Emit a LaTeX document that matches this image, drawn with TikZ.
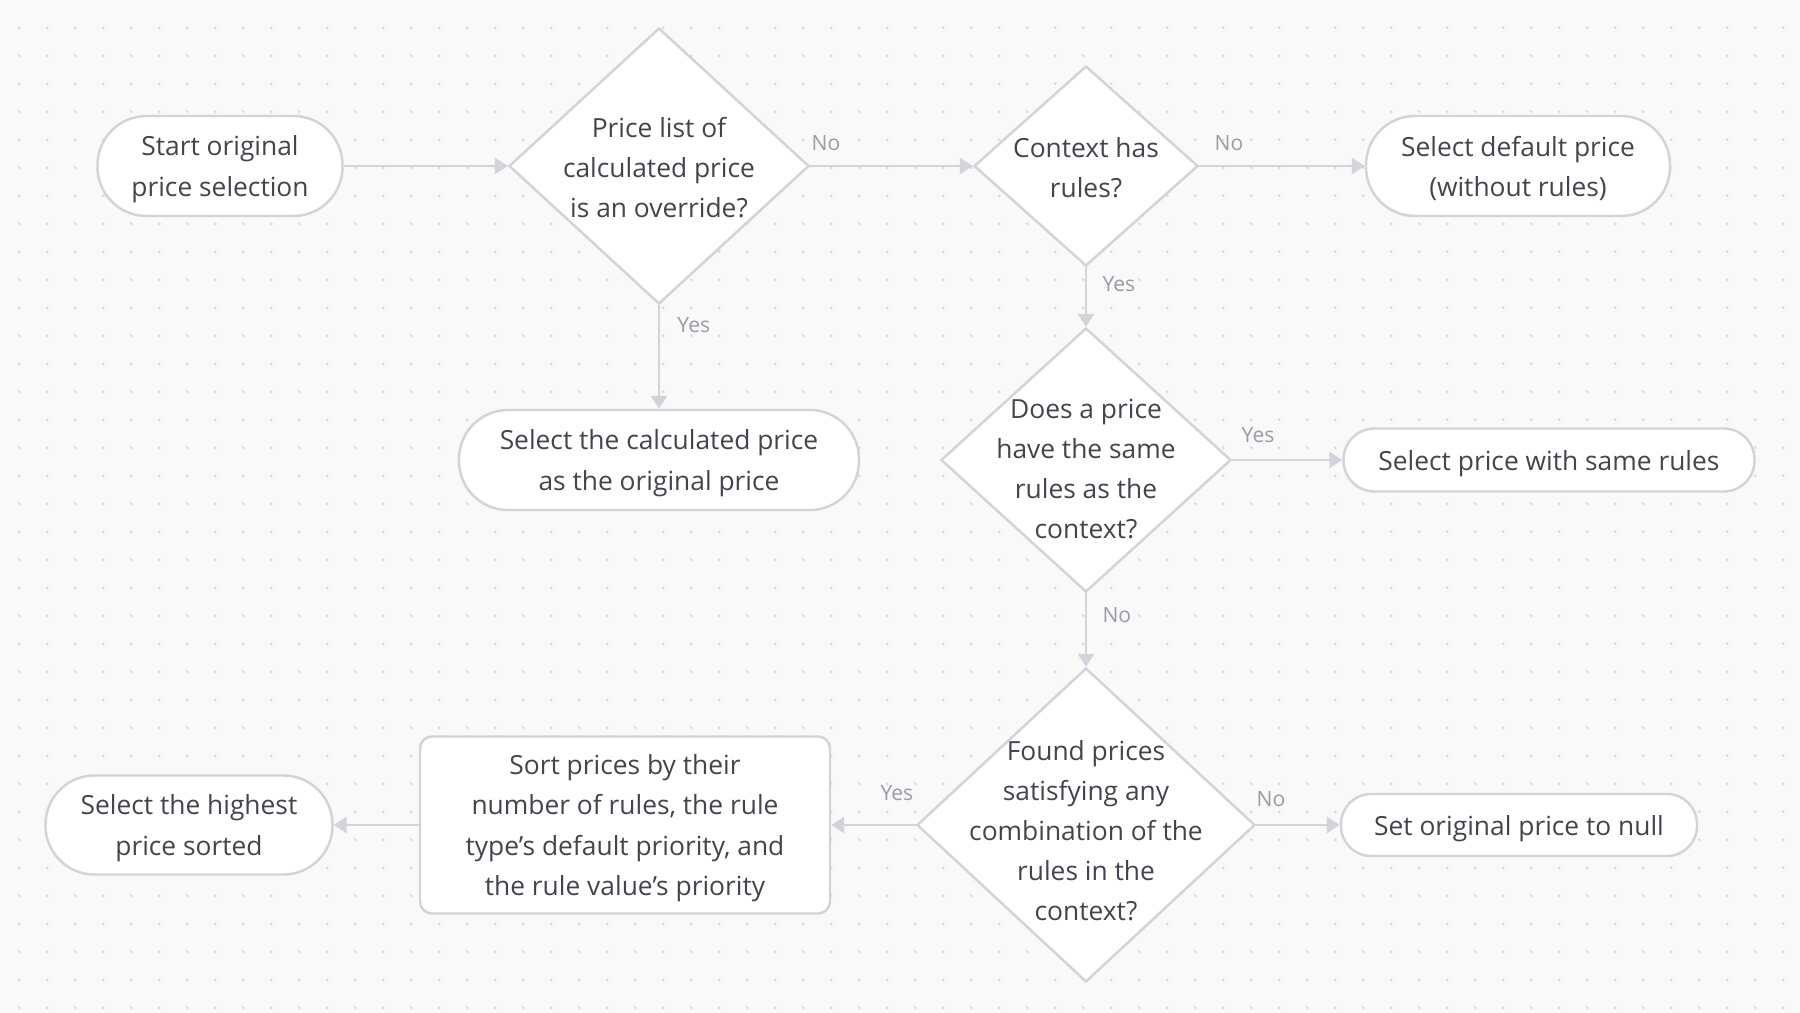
\documentclass[tikz,border=0pt]{standalone}
\usepackage{fontspec}
\setmainfont{Open Sans}
\usetikzlibrary{positioning,arrows.meta,shapes.geometric}
\definecolor{bgc}{HTML}{F9F9FA}
\definecolor{dotc}{HTML}{DCDCE0}
\definecolor{linec}{HTML}{D3D3D9}
\definecolor{txtc}{HTML}{44444F}
\definecolor{lblc}{HTML}{9B9BA5}

\begin{document}
\begin{tikzpicture}[y=-1cm, font=\fontsize{7.5}{11.4}\selectfont,
    every node/.style={align=center},
    term/.style={draw=linec, line width=0.7pt, fill=white, text=txtc, rounded corners=0.49cm, minimum height=1.0cm, text depth=-0.6pt},
    box/.style={draw=linec, line width=0.7pt, fill=white, text=txtc, rounded corners=0.12cm, text depth=-0.6pt},
    decision/.style={diamond, draw=linec, line width=0.7pt, fill=white, inner sep=0pt},
    dtext/.style={text=txtc},
    flow/.style={draw=linec, line width=0.85pt, -{Triangle[length=0.13cm,width=0.16cm]}},
    lbl/.style={text=lblc, font=\fontsize{6}{7}\selectfont, inner sep=0pt}]
  \fill[bgc] (0,0) rectangle (18,10.13);
  \foreach \i in {0,...,63}
    \foreach \j in {0,...,35}
      \fill[dotc] (0.193+0.28*\i, 0.277+0.28*\j) circle (0.016);

  \node[term, minimum width=2.45cm] (start) at (2.20,1.66) {Start original\\price selection};
  \node[decision, minimum width=3.0cm, minimum height=2.76cm,
    label={[dtext, yshift=-0.02cm]center:{Price list of\\calculated price\\is an override?}}] (d1) at (6.59,1.66) {};
  \node[decision, minimum width=2.24cm, minimum height=2.0cm,
    label={[dtext, yshift=-0.02cm]center:{Context has\\rules?}}] (d2) at (10.86,1.66) {};
  \node[term, minimum width=3.04cm] (dflt) at (15.18,1.66) {Select default price\\(without rules)};
  \node[term, minimum width=4.0cm] (calc) at (6.59,4.60) {Select the calculated price\\as the original price};
  \node[decision, minimum width=2.9cm, minimum height=2.64cm,
    label={[dtext, yshift=-0.09cm]center:{Does a price\\have the same\\rules as the\\context?}}] (d3) at (10.86,4.60) {};
  \node[term, minimum width=4.11cm, minimum height=0.63cm, rounded corners=0.31cm] (same) at (15.49,4.60) {Select price with same rules};
  \node[decision, minimum width=3.38cm, minimum height=3.14cm,
    label={[dtext, yshift=-0.06cm]center:{Found prices\\satisfying any\\combination of the\\rules in the\\context?}}] (d4) at (10.86,8.25) {};
  \node[term, minimum width=3.56cm, minimum height=0.62cm, rounded corners=0.3cm] (null) at (15.19,8.25) {Set original price to null};
  \node[box, minimum width=4.1cm, minimum height=1.77cm] (sort) at (6.25,8.25)
    {Sort prices by their\\number of rules, the rule\\type’s default priority, and\\the rule value’s priority};
  \node[term, minimum width=2.87cm, minimum height=0.99cm] (high) at (1.89,8.25) {Select the highest\\price sorted};

  \draw[flow] (start) -- (d1);
  \draw[flow] (d1) -- node[lbl, at start, above right=0.14cm and 0.0cm] {No} (d2);
  \draw[flow] (d2) -- node[lbl, at start, above right=0.14cm and 0.14cm] {No} (dflt);
  \draw[flow] (d1) -- node[lbl, at start, below right=0.11cm and 0.17cm] {Yes} (calc);
  \draw[flow] (d2) -- node[lbl, at start, below right=0.08cm and 0.15cm] {Yes} (d3);
  \draw[flow] (d3) -- node[lbl, at start, above right=0.16cm and 0.08cm] {Yes} (same);
  \draw[flow] (d3) -- node[lbl, at start, below right=0.13cm and 0.15cm] {No} (d4);
  \draw[flow] (d4) -- node[lbl, at start, above right=0.17cm and -0.01cm] {No} (null);
  \draw[flow] (d4) -- node[lbl, at start, above left=0.23cm and 0.01cm] {Yes} (sort);
  \draw[flow] (sort) -- (high);
\end{tikzpicture}
\end{document}
